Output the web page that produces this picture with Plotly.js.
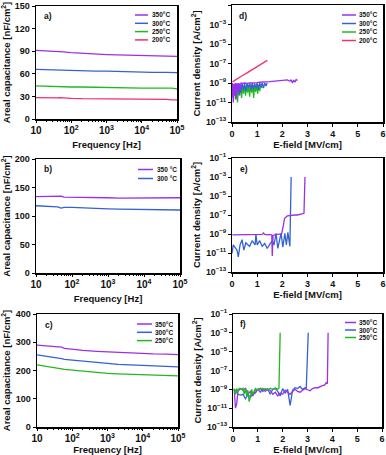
<!DOCTYPE html>
<html>
<head>
<meta charset="utf-8">
<script src="https://cdn.plot.ly/plotly-3.0.1.min.js"></script>
<style>
  html, body { margin: 0; padding: 0; background: #fff; }
  #chart { width: 386px; height: 455px; }
</style>
</head>
<body>
<div id="chart"></div>
<script>
// frequency sweep used for a), b), c)
let freq = [10, 20, 40, 50, 60, 100, 200, 500, 1000, 2000, 5000, 10000, 20000, 50000, 70000, 100000]

let a350 = [91, 90.5, 90, 89.5, 89, 88, 87, 86, 85.5, 85, 84.5, 84, 84, 83.5, 83, 83]
let a300 = [66, 65.5, 65, 65.5, 64.5, 64.5, 64, 63.5, 63.5, 63, 62.5, 62.5, 62, 62, 61.5, 61.5]
let a250 = [44, 43.5, 43, 42.5, 43, 42.5, 42.5, 42, 42, 41.5, 41.5, 41, 41, 41.5, 41, 40]
let a200 = [28.5, 28, 28, 28.5, 28, 27.5, 27, 27, 26.5, 26.5, 26.5, 26, 26, 26, 25.5, 25.5]

let b350 = [134, 134, 134, 135, 133, 133, 132.5, 132, 132, 131.5, 131.5, 131, 131, 131, 131, 132]
let b300 = [118, 117, 116, 114, 115, 115, 114, 113, 112.5, 112, 111.5, 111, 110.5, 110.5, 110.5, 110.5]

let c350 = [290, 286, 282, 283, 278, 274, 271, 268, 266, 264, 262, 260, 259, 258, 257, 256]
let c300 = [255, 250, 244, 242, 239, 236, 233, 228, 225, 222, 220, 218, 216, 214, 214, 213]
let c250 = [220, 215, 208, 206, 204, 201, 198, 193, 190, 188, 186, 184, 183, 182, 181, 181]

// d) leakage current
let d350x = [0.02,0.05,0.08,0.1,0.13,0.16,0.2,0.24,0.28,0.32,0.36,0.4,0.5,0.6,0.7,0.8,0.9,1.0,1.1,1.2,1.3,1.4,1.5,1.6,1.7,1.8,1.9,2.0,2.1,2.2,2.3,2.35,2.4,2.45,2.5,2.55,2.6]
let d350y = [1e-9,1e-11,8e-10,5e-11,1e-9,2e-11,1e-9,1e-10,1e-9,2e-10,1e-9,9e-10,1e-9,9e-10,1e-9,1e-9,1.1e-9,1.1e-9,1.2e-9,1.2e-9,1.3e-9,1.3e-9,1.4e-9,1.5e-9,1.6e-9,1.7e-9,1.8e-9,1.9e-9,2e-9,2.1e-9,1.5e-9,2.2e-9,1e-9,2e-9,1.2e-9,2.3e-9,1.8e-9]
let d300x = [0.01,0.04,0.07,0.1,0.13,0.16,0.19,0.22,0.25,0.28,0.31,0.35,0.4,0.45,0.5,0.55,0.6,0.65,0.7,0.75,0.8,0.85,0.9,0.95,1.0,1.05,1.1,1.15,1.2,1.25,1.3,1.35,1.4]
let d300y = [9e-10,3e-11,8e-10,1e-10,9e-10,4e-11,8e-10,2e-10,9e-10,6e-11,8e-10,1e-10,9e-10,2e-10,8e-10,1.5e-10,9e-10,3e-10,9e-10,2e-10,1e-9,2.5e-10,9e-10,3e-10,1e-9,2e-10,1e-9,4e-10,1e-9,3e-10,1e-9,5e-10,1e-9]
let d250x = [0.02,0.06,0.1,0.14,0.18,0.22,0.26,0.3,0.34,0.38,0.42,0.46,0.5,0.54,0.58,0.62,0.66,0.7,0.74,0.78,0.82,0.86,0.9,0.94,0.98,1.02,1.06,1.1,1.15,1.2]
let d250y = [7e-10,1e-10,6e-10,2e-11,7e-10,1e-11,6e-10,5e-11,7e-10,3e-11,6e-10,8e-11,7e-10,5e-11,7e-10,1e-10,6e-10,4e-11,7e-10,1e-10,6e-10,3e-11,7e-10,1.2e-10,7e-10,8e-11,7e-10,1.5e-10,7e-10,3e-10]
let d200x = [0.02, 0.2, 0.4, 0.6, 0.8, 1.0, 1.2, 1.4]
let d200y = [1.3e-9, 2.7e-9, 5.5e-9, 1.1e-8, 2.3e-8, 4.7e-8, 1e-7, 2.1e-7]

// e)
let e350x = [0.01,0.2,0.4,0.6,0.8,0.9,1.0,1.1,1.2,1.25,1.3,1.4,1.5,1.58,1.6,1.63,1.66,1.7,1.8,1.9,1.97,2.03,2.09,2.2,2.3,2.4,2.5,2.6,2.7,2.75,2.82,2.86,2.9]
let e350y = [8e-10,8e-10,9e-10,8e-10,9e-10,8e-10,9e-10,9e-10,9e-10,1.3e-9,9e-10,8e-10,9e-10,8e-10,5e-12,7e-10,8e-10,8e-10,9e-10,9e-10,1e-9,6e-9,4.5e-8,8e-8,9e-8,1e-7,1e-7,1e-7,1.1e-7,1.2e-7,1.3e-7,1.5e-7,1e-3]
let e300x = [0,0.05,0.12,0.2,0.25,0.32,0.4,0.47,0.55,0.62,0.7,0.8,0.86,0.92,0.95,1.0,1.1,1.2,1.3,1.4,1.5,1.6,1.67,1.75,1.82,1.9,1.95,2.02,2.1,2.16,2.22,2.3,2.35]
let e300y = [9e-12,7e-11,4e-11,2e-11,4e-12,7e-11,2.5e-10,2e-11,1.2e-10,7e-11,5e-11,2e-10,1.2e-10,7e-11,1e-9,7e-11,2e-10,5e-11,1e-10,3e-11,8e-11,2e-10,7e-11,1.2e-9,3e-11,2e-10,1.2e-9,4e-11,1.2e-9,7e-11,1.5e-9,5e-11,1e-3]

// f)
let f350x = [0.05,0.1,0.15,0.2,0.3,0.4,0.5,0.6,0.7,0.8,0.9,1.0,1.1,1.2,1.3,1.4,1.5,1.6,1.7,1.8,1.9,2.0,2.1,2.2,2.3,2.4,2.5,2.6,2.7,2.8,2.9,3.0,3.1,3.2,3.3,3.4,3.5,3.6,3.7,3.75,3.8,3.83]
let f350y = [1e-9,1e-11,3e-11,6e-10,1.2e-9,8e-10,1.3e-9,3e-10,6e-10,2e-10,8e-10,1e-9,5e-10,1.2e-9,6e-10,1e-9,8e-10,3e-10,5e-10,2e-10,4e-10,3e-10,8e-10,5e-10,3e-10,6e-10,1e-9,6e-10,5e-10,8e-10,1.2e-9,9e-10,7e-10,1.2e-9,1.5e-9,1.4e-9,2e-9,2.5e-9,3e-9,5e-9,4e-9,1e-3]
let f300x = [0.05,0.1,0.2,0.3,0.4,0.5,0.6,0.7,0.8,0.9,1.0,1.1,1.2,1.3,1.4,1.5,1.6,1.7,1.8,1.9,2.0,2.1,2.2,2.3,2.4,2.5,2.6,2.7,2.8,2.9,2.95,3.03]
let f300y = [1e-9,8e-10,3e-10,2.5e-10,3e-10,1e-10,2.5e-10,1.5e-10,3e-10,4e-10,1e-9,1.2e-9,6e-10,1e-9,1.1e-9,3e-10,1e-9,1.2e-9,6e-10,2e-10,1.2e-9,4e-10,1e-9,2e-11,8e-10,1.5e-9,1.2e-9,2e-9,1e-9,1.5e-9,1.2e-9,1e-3]
let f250x = [0.03,0.1,0.15,0.2,0.25,0.3,0.35,0.4,0.45,0.5,0.55,0.6,0.65,0.7,0.75,0.8,0.9,1.0,1.1,1.2,1.3,1.4,1.5,1.6,1.7,1.8,1.85,1.9]
let f250y = [1.2e-9,3e-10,1.2e-9,6e-10,1.3e-9,1.2e-9,1e-9,1.3e-9,3e-10,1.2e-9,2e-10,8e-10,5e-11,1.5e-10,1e-9,3e-10,1.2e-9,8e-10,1.3e-9,1e-9,1.2e-9,8e-10,1.3e-9,1e-9,1.4e-9,1e-9,1.3e-9,1e-3]

let col = {p350: '#9b30e8', p300: '#3462d4', p250: '#22b822', p200: '#f0306a'}
let W = 386, H = 455
function px(x) { return x / W }
function py(y) { return 1 - y / H }

function line(x, y, color, xa, ya) {
    return {x: x, y: y, type: 'scatter', mode: 'lines', xaxis: xa, yaxis: ya,
        line: {color: color, width: 1.3}, showlegend: false, hoverinfo: 'skip'}
}

let data = [
    line(freq, a350, col.p350, 'x', 'y'),
    line(freq, a300, col.p300, 'x', 'y'),
    line(freq, a250, col.p250, 'x', 'y'),
    line(freq, a200, col.p200, 'x', 'y'),
    line(d250x, d250y, col.p250, 'x2', 'y2'),
    line(d300x, d300y, col.p300, 'x2', 'y2'),
    line(d350x, d350y, col.p350, 'x2', 'y2'),
    line(d200x, d200y, col.p200, 'x2', 'y2'),
    line(freq, b350, col.p350, 'x3', 'y3'),
    line(freq, b300, col.p300, 'x3', 'y3'),
    line(e300x, e300y, col.p300, 'x4', 'y4'),
    line(e350x, e350y, col.p350, 'x4', 'y4'),
    line(freq, c350, col.p350, 'x5', 'y5'),
    line(freq, c300, col.p300, 'x5', 'y5'),
    line(freq, c250, col.p250, 'x5', 'y5'),
    line(f300x, f300y, col.p300, 'x6', 'y6'),
    line(f350x, f350y, col.p350, 'x6', 'y6'),
    line(f250x, f250y, col.p250, 'x6', 'y6')
]

let tfont = {size: 9, color: '#111', weight: 'bold'}
let tfontLog = {size: 8, color: '#111', weight: 'bold'}
let ttl = {size: 9.5, color: '#111', weight: 'bold'}

function base(extra) {
    let ax = {showline: true, linecolor: '#000', linewidth: 1.5, mirror: true,
        ticks: 'outside', ticklen: 3, tickwidth: 1, tickcolor: '#000',
        showgrid: false, zeroline: false, tickfont: tfont, fixedrange: true}
    return Object.assign(ax, extra)
}
function freqAxis(dom, anchor) {
    return base({type: 'log', range: [1, 5], dtick: 1, exponentformat: 'power', domain: dom, anchor: anchor,
        tickfont: tfontLog, ticklen: 2,
        minor: {ticks: 'outside', ticklen: 1.5, tickcolor: '#000', showgrid: false},
        title: {text: 'Frequency [Hz]', font: ttl, standoff: 6}})
}
function fieldAxis(dom, anchor) {
    return base({range: [0, 6], dtick: 1, domain: dom, anchor: anchor,
        title: {text: 'E-field [MV/cm]', font: ttl, standoff: 2}})
}
function capAxis(dom, anchor, top, step) {
    return base({range: [0, top], dtick: step, domain: dom, anchor: anchor,
        title: {text: 'Areal capacitance [nF/cm<sup>2</sup>]', font: ttl, standoff: 3}})
}
function curAxis(dom, anchor) {
    return base({type: 'log', range: [-13, -1], dtick: 2, tick0: -13, exponentformat: 'power', domain: dom, anchor: anchor,
        tickfont: {size: 7, color: '#111', weight: 'bold'},
        title: {text: 'Current density [A/cm<sup>2</sup>]', font: ttl, standoff: 3}})
}

let layout = {
    width: W, height: H,
    margin: {l: 0, r: 0, t: 0, b: 0},
    paper_bgcolor: '#fff', plot_bgcolor: '#fff',
    font: {family: 'Liberation Sans, Arial, sans-serif', color: '#111'},
    showlegend: false,
    xaxis: freqAxis([px(36), px(177)], 'y'),
    yaxis: capAxis([py(119), py(6)], 'x', 150, 30),
    xaxis2: fieldAxis([px(232), px(383)], 'y2'),
    yaxis2: curAxis([py(122), py(5)], 'x2'),
    xaxis3: freqAxis([px(36), px(180)], 'y3'),
    yaxis3: capAxis([py(273), py(159)], 'x3', 200, 50),
    xaxis4: fieldAxis([px(232), px(383)], 'y4'),
    yaxis4: curAxis([py(272), py(158)], 'x4'),
    xaxis5: freqAxis([px(37), px(178)], 'y5'),
    yaxis5: capAxis([py(427), py(314)], 'x5', 400, 100),
    xaxis6: fieldAxis([px(233), px(382)], 'y6'),
    yaxis6: curAxis([py(427), py(314)], 'x6'),
    annotations: [],
    shapes: []
}

// panel letters
let panels = [['a)', 42, 16], ['d)', 237, 16], ['b)', 42, 169], ['e)', 238, 169], ['c)', 43, 325], ['f)', 238, 324]]
panels.forEach(p => {
    layout.annotations.push({text: p[0], xref: 'paper', yref: 'paper', x: px(p[1]), y: py(p[2]),
        xanchor: 'left', yanchor: 'middle', showarrow: false, font: {size: 8.5, weight: 'bold', color: '#111'}})
})

// small legends drawn as line samples + labels
function legend(names, colors, x0, x1, tx, y0, dy) {
    names.forEach((n, i) => {
        let y = y0 + i * dy
        layout.shapes.push({type: 'line', xref: 'paper', yref: 'paper', x0: px(x0), x1: px(x1), y0: py(y), y1: py(y),
            line: {color: colors[i], width: 1.5}})
        layout.annotations.push({text: n, xref: 'paper', yref: 'paper', x: px(tx), y: py(y),
            xanchor: 'left', yanchor: 'middle', showarrow: false, font: {size: 6.5, weight: 'bold', color: '#111'}})
    })
}
legend(['350°C', '300°C', '250°C', '200°C'], [col.p350, col.p300, col.p250, col.p200], 135, 148, 150, 15, 8.3)
legend(['350°C', '300°C', '250°C', '200°C'], [col.p350, col.p300, col.p250, col.p200], 342, 356, 357, 15, 8.5)
legend(['350 °C', '300 °C'], [col.p350, col.p300], 138, 153, 155, 169.5, 9)
legend(['350°C', '300°C', '250°C'], [col.p350, col.p300, col.p250], 137, 152, 153, 324, 8.3)
legend(['350°C', '300°C', '250°C'], [col.p350, col.p300, col.p250], 345, 356, 357, 322.5, 7.5)

Plotly.newPlot('chart', data, layout, {staticPlot: true})
</script>
</body>
</html>
